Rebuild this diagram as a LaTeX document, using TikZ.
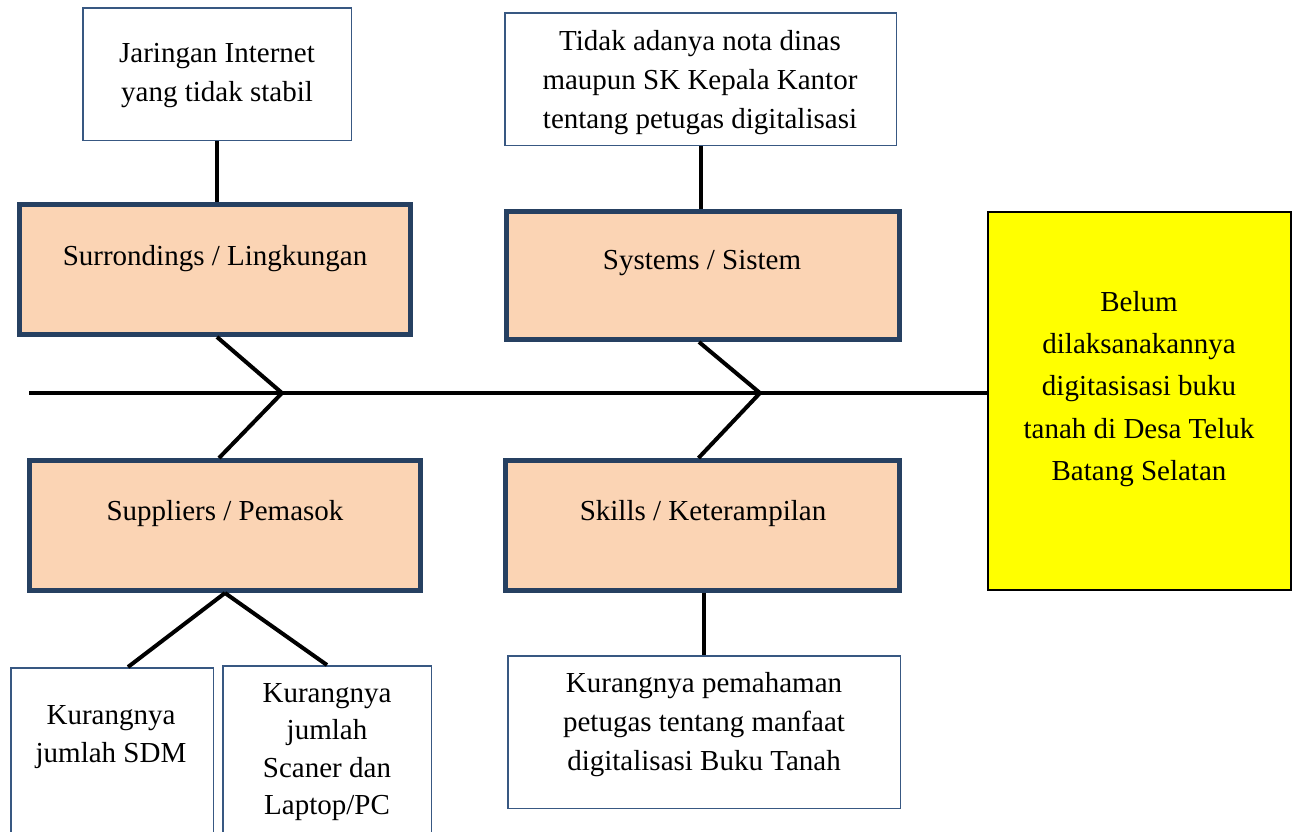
\documentclass[tikz,border=0pt]{standalone}
\usepackage{fontspec}
\setmainfont{Liberation Serif}
\definecolor{navy}{RGB}{38,64,97}
\definecolor{thinblue}{RGB}{56,88,130}
\definecolor{peach}{RGB}{251,212,180}
\definecolor{effectyellow}{RGB}{255,255,0}
\begin{document}
\begin{tikzpicture}[x=1pt,y=-1pt,
  thinbox/.style={draw=thinblue, line width=1.5pt, fill=white, inner sep=0pt, rectangle},
  bonebox/.style={draw=navy, line width=5pt, fill=peach, inner sep=0pt, rectangle},
  effectbox/.style={draw=black, line width=2pt, fill=effectyellow, inner sep=0pt, rectangle},
  txt/.style={inner sep=0pt, align=center, font=\fontsize{29}{39}\selectfont},
  bone/.style={line width=4pt, draw=black}]
\path[use as bounding box, clip] (0,0) rectangle (1294,831);
\fill[white] (0,0) rectangle (1294,831);
% boxes
\node[thinbox, minimum width=268.5pt, minimum height=132.5pt] (jar) at (217,74) {};
\node[thinbox, minimum width=391.5pt, minimum height=132.5pt] (tid) at (700.5,79) {};
\node[bonebox, minimum width=391pt, minimum height=130pt] (sur) at (215,269.5) {};
\node[bonebox, minimum width=393pt, minimum height=128pt] (sys) at (703,275.5) {};
\node[bonebox, minimum width=391pt, minimum height=130pt] (sup) at (225,525.5) {};
\node[bonebox, minimum width=394pt, minimum height=130pt] (ski) at (702.5,525.5) {};
\node[effectbox, minimum width=303pt, minimum height=378pt] (yel) at (1139.5,401) {};
\node[thinbox, minimum width=202.5pt, minimum height=191.5pt] (sdm) at (112,763.5) {};
\node[thinbox, minimum width=208.5pt, minimum height=193.5pt] (scn) at (327,762.5) {};
\node[thinbox, minimum width=392.5pt, minimum height=152.5pt] (pem) at (704,732) {};
% texts
\node[txt, anchor=north] (tjar) at (217,43) {Jaringan Internet\\yang tidak stabil};
\node[txt, anchor=north] (ttid) at (700,30) {Tidak adanya nota dinas\\maupun SK Kepala Kantor\\tentang petugas digitalisasi};
\node[txt, anchor=base] (tsur) at (215,265) {Surrondings / Lingkungan};
\node[txt, anchor=base] (tsys) at (702,269) {Systems / Sistem};
\node[txt, anchor=base] (tsup) at (225,520) {Suppliers / Pemasok};
\node[txt, anchor=base] (tski) at (703,520) {Skills / Keterampilan};
\node[txt, anchor=north, font=\fontsize{29}{42.3}\selectfont] (tyel) at (1139,291) {Belum\\dilaksanakannya\\digitasisasi buku\\tanah di Desa Teluk\\Batang Selatan};
\node[txt, anchor=north, font=\fontsize{29}{38}\selectfont] (tsdm) at (111,705) {Kurangnya\\jumlah SDM};
\node[txt, anchor=north, font=\fontsize{29}{37.5}\selectfont] (tscn) at (327,683) {Kurangnya\\jumlah\\Scaner dan\\Laptop/PC};
\node[txt, anchor=north] (tpem) at (704,672) {Kurangnya pemahaman\\petugas tentang manfaat\\digitalisasi Buku Tanah};
% spine and bones
\coordinate (spL) at (29,393);
\coordinate (j1) at (282,393);
\coordinate (j2) at (760,393);
\draw[bone] (spL) -- (spL -| yel.west);
\draw[bone] ([xshift=2pt]sur.south) -- (j1);
\draw[bone] ([xshift=-6pt]sup.north) -- (j1);
\draw[bone] ([xshift=-4pt]sys.south) -- (j2);
\draw[bone] ([xshift=-4pt]ski.north) -- (j2);
\draw[bone] (jar.south) -- (jar.south |- sur.north);
\draw[bone] (tid.south) -- (tid.south |- sys.north);
\draw[bone] (pem.north |- ski.south) -- (pem.north);
\draw[bone] (sup.south) -- ([xshift=16pt]sdm.north);
\draw[bone] (sup.south) -- (scn.north);
\end{tikzpicture}
\end{document}
